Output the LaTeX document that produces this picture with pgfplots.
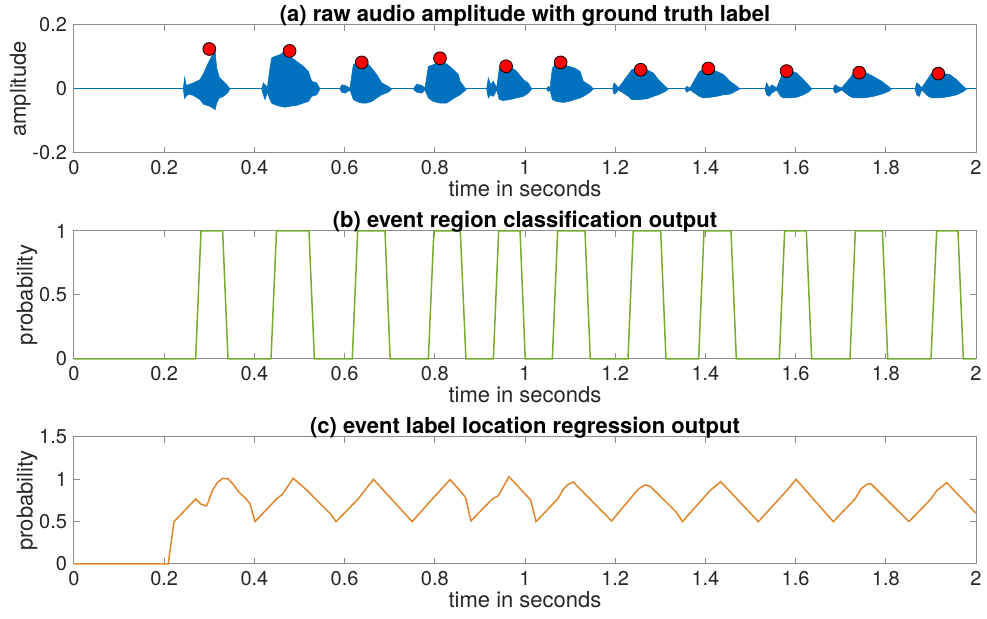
\documentclass[border=0pt]{standalone}
\usepackage{fontspec}
\setmainfont{TeX Gyre Heros}
\usepackage{pgfplots}
\pgfplotsset{compat=1.18}
\definecolor{mblue}{rgb}{0,0.447,0.741}
\definecolor{mgreen}{rgb}{0.466,0.674,0.188}
\definecolor{morange}{HTML}{E0862A}
\definecolor{axgray}{gray}{0.55}
\definecolor{txt}{gray}{0.15}
\pgfplotsset{
  mystyle/.style={
    scale only axis, width=451pt, height=64pt,
    xmin=0, xmax=2, clip=false,
    axis line style={axgray, line width=0.5pt},
    every tick/.style={axgray, line width=0.5pt},
    tick align=inside, major tick length=2.8pt,
    xtick={0,0.2,0.4,0.6,0.8,1,1.2,1.4,1.6,1.8,2},
    xticklabels={0,0.2,0.4,0.6,0.8,1,1.2,1.4,1.6,1.8,2},
    ticklabel style={font=\fontsize{10}{11}\selectfont, text=txt},
    label style={font=\fontsize{11}{12}\selectfont, text=txt},
    xlabel={time in seconds},
    xlabel style={yshift=4pt},
    ylabel style={yshift=-6pt},
    title style={font=\bfseries\fontsize{11}{12}\selectfont, at={(0.5,1)}, anchor=south, yshift=-10pt},
  }
}
\begin{document}
\begin{tikzpicture}
\path[use as bounding box] (0,0) rectangle (493.5pt,309.5pt);
% ---------------- (a)
\begin{axis}[mystyle, at={(37pt,233pt)}, anchor=south west,
  ymin=-0.2, ymax=0.2, ytick={-0.2,0,0.2}, yticklabels={-0.2,0,0.2},
  ylabel={amplitude},
  title={(a) raw audio amplitude with ground truth label}]
\addplot[mblue, line width=0.5pt] coordinates {(0,0) (2,0)};
\addplot[mblue, fill=mblue, line width=0.3pt] coordinates {
(0.2424,0) (0.2454,0.036) (0.2483,0.013) (0.2535,0.013) (0.2646,0.019) (0.2794,0.029) (0.2868,0.047) (0.2942,0.071) (0.3016,0.092) (0.3075,0.107) (0.3127,0.12) (0.3164,0.065) (0.3223,0.036) (0.3312,0.024) (0.3400,0.011) (0.3459,0)
(0.3400,-0.013) (0.3312,-0.023) (0.3223,-0.028) (0.3164,-0.044) (0.3127,-0.065) (0.3075,-0.059) (0.3016,-0.054) (0.2942,-0.051) (0.2868,-0.047) (0.2794,-0.033) (0.2646,-0.020) (0.2535,-0.016) (0.2483,-0.023) (0.2454,-0.030) (0.2424,0)};
\addplot[mblue, fill=mblue, line width=0.3pt] coordinates {
(0.4162,0) (0.4198,0.019) (0.4235,0.013) (0.4287,0.005) (0.4346,0.065) (0.4383,0.097) (0.4457,0.102) (0.4567,0.107) (0.4678,0.118) (0.4789,0.102) (0.4937,0.086) (0.5085,0.071) (0.5196,0.055) (0.5270,0.024) (0.538,0.019) (0.5455,0)
(0.538,-0.018) (0.5270,-0.023) (0.5196,-0.039) (0.5085,-0.044) (0.4937,-0.051) (0.4789,-0.054) (0.4678,-0.057) (0.4567,-0.054) (0.4457,-0.049) (0.4383,-0.044) (0.4346,-0.033) (0.4287,-0.010) (0.4235,-0.033) (0.4198,-0.018) (0.4162,0)};
\addplot[mblue, fill=mblue, line width=0.3pt] coordinates {
(0.5898,0) (0.5935,0.013) (0.6009,0.011) (0.612,0.003) (0.6194,0.076) (0.6268,0.081) (0.6379,0.086) (0.649,0.081) (0.6601,0.065) (0.6712,0.045) (0.6823,0.019) (0.6970,0.008) (0.7044,0)
(0.6970,-0.010) (0.6823,-0.018) (0.6712,-0.028) (0.6601,-0.039) (0.649,-0.044) (0.6379,-0.044) (0.6268,-0.039) (0.6194,-0.033) (0.612,-0.003) (0.6009,-0.013) (0.5935,-0.010) (0.5898,0)};
\addplot[mblue, fill=mblue, line width=0.3pt] coordinates {
(0.7524,0) (0.7598,0.015) (0.771,0.011) (0.7783,0.003) (0.7857,0.070) (0.7968,0.076) (0.8116,0.086) (0.8264,0.078) (0.8337,0.070) (0.8412,0.06) (0.8523,0.045) (0.8559,0.024) (0.867,0.003) (0.870,0)
(0.867,-0.005) (0.8559,-0.018) (0.8412,-0.030) (0.8264,-0.044) (0.8116,-0.044) (0.7968,-0.039) (0.7857,-0.028) (0.7783,-0.003) (0.771,-0.013) (0.7598,-0.010) (0.7524,0)};
\addplot[mblue, fill=mblue, line width=0.3pt] coordinates {
(0.915,0) (0.9187,0.034) (0.9239,0.013) (0.9298,0.024) (0.9372,0.003) (0.9431,0.065) (0.952,0.074) (0.9668,0.071) (0.9815,0.055) (0.9963,0.029) (1.0074,0.018) (1.0148,0)
(1.0074,-0.013) (0.9963,-0.023) (0.9815,-0.028) (0.9668,-0.033) (0.952,-0.036) (0.9431,-0.033) (0.9372,-0.003) (0.9298,-0.023) (0.9239,-0.018) (0.9187,-0.028) (0.915,0)};
\addplot[mblue, fill=mblue, line width=0.3pt] coordinates {
(1.048,0) (1.0518,0.008) (1.0555,0.003) (1.0607,0.065) (1.0703,0.081) (1.085,0.076) (1.0961,0.071) (1.1109,0.065) (1.122,0.055) (1.1294,0.024) (1.1442,0.011) (1.1516,0)
(1.1442,-0.010) (1.1294,-0.023) (1.122,-0.028) (1.1109,-0.033) (1.0961,-0.039) (1.085,-0.042) (1.0703,-0.039) (1.0607,-0.033) (1.0555,-0.003) (1.0518,-0.008) (1.048,0)};
\addplot[mblue, fill=mblue, line width=0.3pt] coordinates {
(1.1944,0) (1.1974,0.019) (1.2018,0.013) (1.207,0.003) (1.2291,0.045) (1.2365,0.06) (1.2513,0.065) (1.2698,0.06) (1.2846,0.05) (1.2957,0.029) (1.3105,0.008) (1.3179,0)
(1.3105,-0.008) (1.2957,-0.018) (1.2846,-0.023) (1.2698,-0.031) (1.2513,-0.033) (1.2365,-0.033) (1.2291,-0.023) (1.207,-0.003) (1.2018,-0.013) (1.1974,-0.016) (1.1944,0)};
\addplot[mblue, fill=mblue, line width=0.3pt] coordinates {
(1.3548,0) (1.3585,0.008) (1.3659,0.003) (1.3866,0.055) (1.3955,0.06) (1.4102,0.06) (1.4250,0.055) (1.4398,0.045) (1.4545,0.024) (1.4656,0.013) (1.4767,0)
(1.4656,-0.008) (1.4545,-0.016) (1.4398,-0.018) (1.4250,-0.023) (1.4102,-0.026) (1.3955,-0.028) (1.3866,-0.023) (1.3659,-0.003) (1.3585,-0.010) (1.3548,0)};
\addplot[mblue, fill=mblue, line width=0.3pt] coordinates {
(1.5322,0) (1.5358,0.019) (1.5418,0.003) (1.547,0.013) (1.5580,0.003) (1.5669,0.034) (1.5728,0.055) (1.5876,0.057) (1.6024,0.05) (1.6171,0.029) (1.6282,0.013) (1.6356,0)
(1.6282,-0.010) (1.6171,-0.018) (1.6024,-0.026) (1.5876,-0.028) (1.5728,-0.028) (1.5669,-0.023) (1.5580,-0.003) (1.547,-0.013) (1.5418,-0.023) (1.5358,-0.018) (1.5322,0)};
\addplot[mblue, fill=mblue, line width=0.3pt] coordinates {
(1.6836,0) (1.6873,0.013) (1.6932,0.008) (1.7021,0.003) (1.7206,0.034) (1.7295,0.053) (1.7502,0.055) (1.7724,0.039) (1.7908,0.024) (1.8056,0.008) (1.8130,0)
(1.8056,-0.008) (1.7908,-0.016) (1.7724,-0.023) (1.7502,-0.028) (1.7295,-0.028) (1.7206,-0.023) (1.7021,-0.003) (1.6932,-0.010) (1.6873,-0.013) (1.6836,0)};
\addplot[mblue, fill=mblue, line width=0.3pt] coordinates {
(1.8647,0) (1.8684,0.019) (1.8743,0.013) (1.8795,0.003) (1.8943,0.034) (1.9017,0.05) (1.9202,0.05) (1.9424,0.045) (1.9572,0.029) (1.972,0.008) (1.9793,0)
(1.972,-0.008) (1.9572,-0.018) (1.9424,-0.023) (1.9202,-0.028) (1.9017,-0.028) (1.8943,-0.023) (1.8795,-0.003) (1.8743,-0.023) (1.8684,-0.018) (1.8647,0)};
\addplot[only marks, mark=*, mark size=3.2pt, mark options={fill=red, draw=black, line width=0.4pt}] coordinates {
(0.300,0.125) (0.478,0.119) (0.638,0.083) (0.8115,0.096) (0.958,0.071) (1.079,0.083) (1.2565,0.060) (1.4065,0.064) (1.580,0.056) (1.741,0.051) (1.9165,0.048)};
\end{axis}
% ---------------- (b)
\begin{axis}[mystyle, at={(37pt,130pt)}, anchor=south west,
  ymin=0, ymax=1, ytick={0,0.5,1}, yticklabels={0,0.5,1},
  ylabel={probability},
  title={(b) event region classification output}]
\addplot[mgreen, line width=0.75pt] coordinates {
(0,0) (0.2697,0) (0.2816,1) (0.3296,1) (0.3415,0) (0.4368,0) (0.449,1) (0.521,1) (0.533,0) (0.617,0) (0.629,1) (0.6896,1) (0.701,0) (0.7857,0) (0.798,1) (0.8566,1) (0.869,0) (0.9298,0) (0.9416,1) (0.989,1) (1.0006,0) (1.0606,0) (1.0724,1) (1.133,1) (1.1448,0) (1.2284,0) (1.240,1) (1.3009,1) (1.3126,0) (1.385,0) (1.3969,1) (1.4568,1) (1.4686,0) (1.5639,0) (1.5757,1) (1.6238,1) (1.6356,0) (1.7206,0) (1.7324,1) (1.7926,1) (1.8043,0) (1.9002,0) (1.9128,1) (1.9601,1) (1.9719,0) (2,0)};
\end{axis}
% ---------------- (c)
\begin{axis}[mystyle, at={(37pt,27.5pt)}, anchor=south west, height=63.5pt,
  ymin=0, ymax=1.5, ytick={0,0.5,1,1.5}, yticklabels={0,0.5,1,1.5},
  ylabel={probability},
  title={(c) event label location regression output}]
\addplot[morange, line width=0.75pt] coordinates {
(0,0) (0.209,0) (0.2217,0.50) (0.2698,0.768) (0.281,0.709) (0.294,0.685) (0.3067,0.866) (0.3178,0.96) (0.3297,1.012) (0.342,1.004) (0.353,0.941) (0.366,0.847) (0.379,0.783) (0.390,0.716) (0.4013,0.50) (0.449,0.768) (0.462,0.823) (0.486,1.012) (0.516,0.874) (0.560,0.638) (0.569,0.59) (0.581,0.50) (0.630,0.768) (0.664,1.0) (0.750,0.50) (0.789,0.736) (0.8115,0.866) (0.8337,0.996) (0.856,0.866) (0.8685,0.783) (0.880,0.508) (0.9276,0.768) (0.941,0.807) (0.9645,1.031) (1.0126,0.756) (1.0244,0.50) (1.0724,0.768) (1.085,0.882) (1.0938,0.933) (1.107,0.968) (1.192,0.508) (1.2513,0.886) (1.266,0.933) (1.277,0.921) (1.336,0.61) (1.349,0.50) (1.410,0.866) (1.434,0.972) (1.5174,0.50) (1.5816,0.874) (1.601,1.0) (1.6836,0.50) (1.7317,0.768) (1.745,0.886) (1.7576,0.941) (1.767,0.949) (1.8514,0.50) (1.898,0.756) (1.913,0.866) (1.935,0.96) (2,0.60)};
\end{axis}
\end{tikzpicture}
\end{document}
